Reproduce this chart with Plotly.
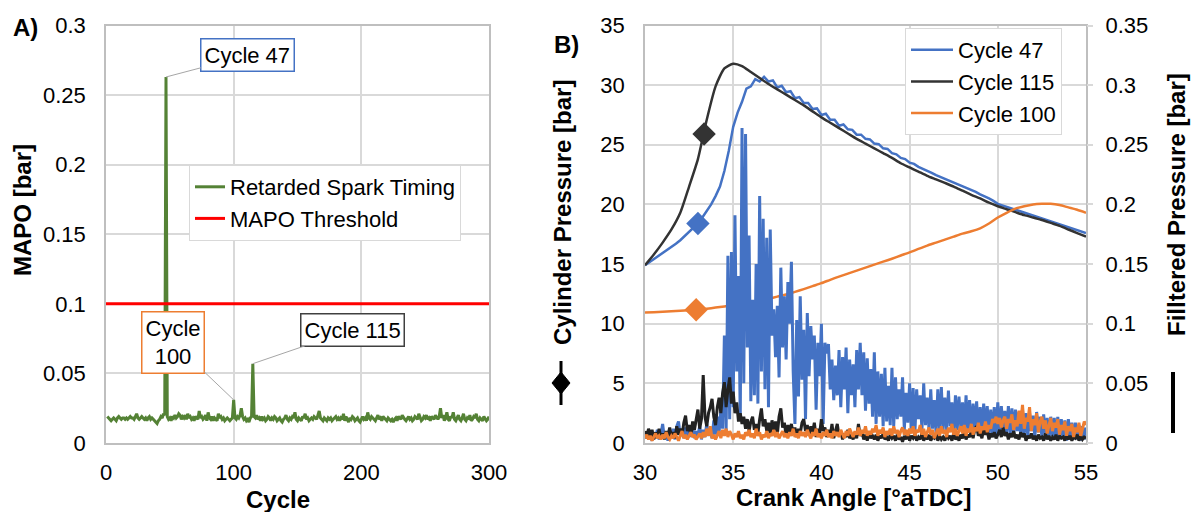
import plotly.graph_objects as go

W, H = 1192, 512
def px(x): return x / W
def py(y): return 1 - y / H

FONT = "Liberation Sans, Arial, sans-serif"
BLUE = "#4472C4"
DARK = "#333333"
ORANGE = "#ED7D31"
GREEN = "#548235"
RED = "#FF0000"
GRID = "#D9D9D9"

# ---------------- Panel A data ----------------
cycles = list(range(1, 301))
mapo = [
    0.019,0.018,0.017,0.016,0.017,0.018,0.017,0.016,0.018,0.019,0.018,0.017,0.018,0.018,0.017,0.018,0.017,0.018,0.019,0.018,
    0.018,0.017,0.019,0.021,0.018,0.017,0.018,0.019,0.018,0.017,0.018,0.016,0.018,0.019,0.017,0.018,0.017,0.016,0.015,0.014,
    0.016,0.017,0.019,0.018,0.021,0.020,0.263,0.019,0.017,0.018,0.016,0.019,0.018,0.020,0.018,0.019,0.021,0.020,0.017,0.019,
    0.018,0.020,0.017,0.021,0.018,0.019,0.017,0.018,0.016,0.019,0.018,0.017,0.023,0.018,0.019,0.017,0.018,0.020,0.016,0.022,
    0.018,0.017,0.019,0.016,0.018,0.017,0.016,0.021,0.018,0.019,0.017,0.018,0.016,0.017,0.018,0.017,0.016,0.017,0.018,0.031,
    0.018,0.017,0.019,0.018,0.020,0.025,0.019,0.017,0.018,0.016,0.017,0.015,0.018,0.019,0.057,0.019,0.018,0.020,0.017,0.018,
    0.016,0.019,0.017,0.018,0.016,0.017,0.019,0.018,0.016,0.018,0.017,0.019,0.018,0.016,0.017,0.018,0.016,0.015,0.017,0.018,
    0.020,0.017,0.016,0.018,0.017,0.019,0.018,0.022,0.017,0.016,0.018,0.017,0.016,0.019,0.018,0.021,0.017,0.018,0.016,0.017,
    0.018,0.017,0.019,0.018,0.017,0.020,0.023,0.018,0.017,0.016,0.018,0.017,0.016,0.018,0.017,0.018,0.016,0.017,0.018,0.019,
    0.017,0.018,0.016,0.018,0.017,0.021,0.016,0.019,0.017,0.015,0.018,0.017,0.019,0.018,0.016,0.017,0.018,0.016,0.015,0.017,
    0.019,0.017,0.018,0.016,0.022,0.018,0.017,0.019,0.018,0.017,0.016,0.018,0.020,0.017,0.018,0.016,0.019,0.018,0.017,0.016,
    0.018,0.017,0.016,0.017,0.015,0.017,0.018,0.016,0.019,0.018,0.017,0.020,0.018,0.017,0.016,0.018,0.019,0.017,0.018,0.016,
    0.017,0.019,0.018,0.017,0.021,0.018,0.016,0.017,0.019,0.018,0.020,0.017,0.018,0.016,0.019,0.018,0.017,0.020,0.018,0.017,
    0.019,0.025,0.018,0.020,0.016,0.018,0.022,0.017,0.016,0.019,0.018,0.022,0.017,0.016,0.018,0.020,0.017,0.016,0.018,0.021,
    0.017,0.016,0.018,0.017,0.020,0.016,0.017,0.019,0.018,0.021,0.017,0.016,0.018,0.017,0.016,0.019,0.017,0.016,0.017,0.019,
]
threshold_x = [0, 300]
threshold_y = [0.1, 0.1]
mapo_ticks = [0, 0.05, 0.1, 0.15, 0.2, 0.25, 0.3]
mapo_ticktext = ["0", "0.05", "0.1", "0.15", "0.2", "0.25", "0.3"]
cycle_ticks = [0, 100, 200, 300]

# ---------------- Panel B data ----------------
# crank angle sampling grids (deg aTDC)
ca_fine = [round(30 + 0.1 * i, 1) for i in range(251)]
ca_half = [30 + 0.5 * i for i in range(51)]
ca_quarter = [30 + 0.25 * i for i in range(101)]

# cylinder pressure [bar]
p_cycle47 = [
    14.9, 15.15, 15.4, 15.65,
    15.9, 16.15, 16.45, 16.7,
    17.0, 17.35, 17.7, 18.05,
    18.4, 18.9, 19.4, 20.0,
    20.7, 21.5, 22.8, 24.5,
    26.5, 27.7, 28.6, 29.7,
    29.9, 30.5, 30.3, 30.7,
    30.3, 30.4, 29.8, 29.95,
    29.4, 29.5, 28.9, 29.0,
    28.5, 28.5, 28.0, 28.05,
    27.5, 27.6, 27.1, 27.1,
    26.6, 26.7, 26.3, 26.25,
    25.85, 25.85, 25.5, 25.45,
    25.1, 25.05, 24.7, 24.65,
    24.3, 24.2, 23.9, 23.8,
    23.5, 23.4, 23.15, 23.0,
    22.8, 22.65, 22.45, 22.3,
    22.1, 21.95, 21.8, 21.65,
    21.5, 21.35, 21.2, 21.05,
    20.85, 20.7, 20.5, 20.3,
    20.05, 19.92, 19.8, 19.68,
    19.55, 19.42, 19.3, 19.17,
    19.05, 18.95, 18.85, 18.72,
    18.6, 18.48, 18.35, 18.22,
    18.1, 17.97, 17.85, 17.72,
    17.6,
]
p_cycle115 = [
    14.9, 15.8, 16.8, 17.9, 19.3, 21.5, 23.8, 27.1, 29.9, 31.4,
    31.8, 31.6, 31.1, 30.6, 30.1, 29.65, 29.2, 28.75, 28.3, 27.8,
    27.3, 26.85, 26.4, 25.95, 25.5, 25.1, 24.7, 24.3, 23.9, 23.45,
    23.1, 22.75, 22.4, 22.1, 21.8, 21.5, 21.15, 20.8, 20.5, 20.15,
    19.85, 19.6, 19.35, 19.1, 18.9, 18.7, 18.45, 18.2, 17.9, 17.6,
    17.3,
]
p_cycle100 = [
    10.94, 10.97, 11.0, 11.04, 11.08, 11.13, 11.18, 11.26, 11.35, 11.45,
    11.55, 11.67, 11.8, 11.95, 12.1, 12.27, 12.45, 12.67, 12.9, 13.15,
    13.4, 13.68, 13.95, 14.2, 14.45, 14.7, 14.95, 15.2, 15.45, 15.72,
    15.98, 16.27, 16.55, 16.8, 17.05, 17.3, 17.55, 17.75, 18.0, 18.4,
    18.9, 19.3, 19.65, 19.85, 20.0, 20.05, 20.05, 19.95, 19.75, 19.55,
    19.3,
]

# filtered pressure [bar]
f_cycle47 = [
    0.004,0.008,0.003,0.006,0.002,0.009,0.004,0.011,0.003,0.007,
    0.016,0.004,0.009,0.002,0.010,0.005,0.012,0.003,0.014,0.018,
    0.006,0.011,0.004,0.013,0.006,0.015,0.005,0.012,0.004,0.010,
    0.006,0.014,0.003,0.011,0.005,0.016,0.006,0.012,0.004,0.019,
    0.007,0.022,0.009,0.028,0.012,0.090,0.010,0.157,0.020,0.160,
    0.030,0.191,0.060,0.140,0.020,0.264,0.050,0.259,0.080,0.174,
    0.035,0.120,0.040,0.150,0.033,0.207,0.060,0.188,0.045,0.172,
    0.030,0.179,0.090,0.112,0.072,0.115,0.055,0.147,0.080,0.123,
    0.070,0.135,0.100,0.152,0.060,0.016,0.103,0.039,0.123,0.053,
    0.095,0.020,0.109,0.056,0.098,0.070,0.090,0.028,0.084,0.056,
    0.100,0.016,0.084,0.075,0.083,0.045,0.070,0.036,0.065,0.040,
    0.078,0.030,0.072,0.045,0.080,0.025,0.070,0.040,0.066,0.030,
    0.078,0.045,0.084,0.040,0.076,0.027,0.071,0.033,0.062,0.022,
    0.076,0.016,0.060,0.022,0.058,0.014,0.063,0.018,0.048,0.015,
    0.063,0.014,0.055,0.020,0.045,0.022,0.055,0.011,0.042,0.017,
    0.050,0.011,0.046,0.008,0.045,0.020,0.040,0.011,0.050,0.015,
    0.038,0.011,0.045,0.012,0.036,0.008,0.045,0.011,0.047,0.011,
    0.038,0.011,0.044,0.014,0.034,0.008,0.040,0.011,0.039,0.013,
    0.034,0.008,0.040,0.011,0.036,0.006,0.033,0.011,0.035,0.006,
    0.030,0.010,0.033,0.010,0.031,0.008,0.028,0.006,0.030,0.007,
    0.034,0.008,0.031,0.012,0.027,0.009,0.031,0.007,0.029,0.008,
    0.028,0.010,0.026,0.006,0.028,0.008,0.025,0.006,0.025,0.010,
    0.023,0.005,0.026,0.009,0.022,0.005,0.024,0.007,0.021,0.004,
    0.022,0.006,0.021,0.003,0.022,0.005,0.020,0.004,0.019,0.002,
    0.020,0.005,0.017,0.003,0.017,0.003,0.015,0.002,0.014,0.003,
    0.013,
]
f_cycle115 = [
    0.010,0.004,0.012,0.006,0.011,0.003,0.009,0.005,0.012,0.004,
    0.008,0.003,0.010,0.006,0.013,0.005,0.009,0.004,0.014,0.007,
    0.012,0.006,0.017,0.023,0.010,0.015,0.006,0.018,0.011,0.020,
    0.028,0.012,0.020,0.057,0.022,0.014,0.025,0.030,0.037,0.022,
    0.015,0.030,0.038,0.025,0.042,0.051,0.030,0.045,0.055,0.033,
    0.043,0.025,0.034,0.018,0.025,0.016,0.022,0.012,0.020,0.010,
    0.018,0.022,0.011,0.016,0.008,0.020,0.029,0.014,0.020,0.010,
    0.017,0.008,0.019,0.011,0.018,0.007,0.022,0.029,0.013,0.017,
    0.006,0.015,0.009,0.016,0.007,0.013,0.005,0.012,0.008,0.017,
    0.020,0.010,0.015,0.006,0.014,0.009,0.017,0.005,0.012,0.008,
    0.020,0.010,0.013,0.005,0.011,0.006,0.016,0.004,0.009,0.016,
    0.006,0.010,0.003,0.008,0.005,0.011,0.004,0.007,0.003,0.009,
    0.004,0.016,0.006,0.009,0.003,0.007,0.002,0.008,0.004,0.006,
    0.003,0.007,0.002,0.006,0.004,0.008,0.003,0.005,0.002,0.007,
    0.004,0.006,0.002,0.007,0.003,0.005,0.001,0.006,0.003,0.008,
    0.002,0.006,0.004,0.007,0.002,0.005,0.003,0.008,0.002,0.006,
    0.003,0.007,0.002,0.005,0.004,0.008,0.002,0.006,0.003,0.005,
    0.002,0.007,0.004,0.006,0.002,0.008,0.003,0.005,0.002,0.007,
    0.004,0.009,0.003,0.007,0.005,0.010,0.004,0.012,0.014,0.006,
    0.009,0.004,0.012,0.007,0.010,0.003,0.008,0.005,0.009,0.004,
    0.007,0.011,0.005,0.013,0.006,0.009,0.003,0.008,0.005,0.010,
    0.004,0.007,0.003,0.009,0.005,0.008,0.002,0.006,0.004,0.008,
    0.003,0.006,0.002,0.007,0.004,0.005,0.002,0.008,0.003,0.006,
    0.002,0.005,0.003,0.007,0.002,0.006,0.004,0.005,0.002,0.007,
    0.003,0.006,0.002,0.005,0.004,0.007,0.002,0.006,0.003,0.005,
    0.004,
]
f_cycle100 = [
    0.004,0.007,0.003,0.006,0.002,0.005,0.008,0.004,0.006,0.003,
    0.007,0.004,0.009,0.005,0.003,0.006,0.004,0.008,0.005,0.002,
    0.006,0.010,0.004,0.007,0.003,0.006,0.009,0.005,0.007,0.003,
    0.005,0.008,0.004,0.009,0.005,0.012,0.006,0.014,0.004,0.007,
    0.003,0.006,0.010,0.004,0.011,0.006,0.012,0.005,0.010,0.007,
    0.003,0.008,0.005,0.010,0.004,0.007,0.003,0.009,0.006,0.011,
    0.005,0.008,0.004,0.012,0.006,0.009,0.003,0.007,0.005,0.010,
    0.004,0.008,0.006,0.011,0.005,0.009,0.004,0.007,0.010,0.005,
    0.008,0.004,0.009,0.006,0.012,0.005,0.008,0.004,0.010,0.006,
    0.009,0.005,0.011,0.007,0.004,0.009,0.006,0.012,0.005,0.008,
    0.004,0.009,0.006,0.011,0.005,0.008,0.004,0.010,0.006,0.009,
    0.005,0.011,0.007,0.004,0.010,0.006,0.012,0.008,0.005,0.010,
    0.007,0.013,0.006,0.011,0.008,0.014,0.006,0.010,0.007,0.012,
    0.009,0.015,0.006,0.011,0.008,0.013,0.005,0.010,0.007,0.012,
    0.006,0.014,0.008,0.011,0.005,0.010,0.013,0.007,0.011,0.006,
    0.012,0.008,0.014,0.006,0.011,0.009,0.015,0.007,0.012,0.005,
    0.010,0.013,0.007,0.011,0.004,0.009,0.012,0.006,0.014,0.008,
    0.011,0.005,0.013,0.009,0.016,0.007,0.012,0.006,0.010,0.014,
    0.008,0.015,0.006,0.012,0.009,0.016,0.007,0.013,0.010,0.017,
    0.008,0.014,0.011,0.018,0.009,0.015,0.012,0.020,0.017,0.022,
    0.016,0.021,0.013,0.019,0.022,0.012,0.020,0.017,0.024,0.011,
    0.019,0.014,0.027,0.016,0.032,0.012,0.021,0.018,0.030,0.010,
    0.020,0.015,0.025,0.009,0.018,0.022,0.012,0.019,0.008,0.016,
    0.021,0.010,0.017,0.013,0.020,0.007,0.015,0.011,0.018,0.006,
    0.014,0.010,0.016,0.005,0.013,0.009,0.017,0.006,0.012,0.018,
    0.015,
]

# spark timing markers
spark_ca_47, spark_p_47 = [33.0], [18.4]
spark_ca_115, spark_p_115 = [33.35], [25.9]
spark_ca_100, spark_p_100 = [32.9], [11.17]

ca_ticks = [30, 35, 40, 45, 50, 55]
p_ticks = [0, 5, 10, 15, 20, 25, 30, 35]
f_ticks = [0, 0.05, 0.1, 0.15, 0.2, 0.25, 0.3, 0.35]
f_ticktext = ["0", "0.05", "0.1", "0.15", "0.2", "0.25", "0.3", "0.35"]

fig = go.Figure()

# Panel A
fig.add_trace(go.Scatter(x=cycles, y=mapo, mode="lines", name="Retarded Spark Timing",
                         line=dict(color=GREEN, width=3), xaxis="x", yaxis="y", legend="legend"))
fig.add_trace(go.Scatter(x=threshold_x, y=threshold_y, mode="lines", name="MAPO Threshold",
                         line=dict(color=RED, width=3), xaxis="x", yaxis="y", legend="legend"))

# Panel B cylinder pressure
fig.add_trace(go.Scatter(x=ca_quarter, y=p_cycle47, mode="lines", name="Cycle 47",
                         line=dict(color=BLUE, width=2.5), xaxis="x2", yaxis="y2", legend="legend2"))
fig.add_trace(go.Scatter(x=ca_half, y=p_cycle115, mode="lines", name="Cycle 115",
                         line=dict(color=DARK, width=2.5, shape="spline", smoothing=0.6),
                         xaxis="x2", yaxis="y2", legend="legend2"))
fig.add_trace(go.Scatter(x=ca_half, y=p_cycle100, mode="lines", name="Cycle 100",
                         line=dict(color=ORANGE, width=2.5, shape="spline", smoothing=0.6),
                         xaxis="x2", yaxis="y2", legend="legend2"))
for cx, cy, col in [(spark_ca_47, spark_p_47, BLUE), (spark_ca_115, spark_p_115, DARK),
                    (spark_ca_100, spark_p_100, ORANGE)]:
    fig.add_trace(go.Scatter(x=cx, y=cy, mode="markers", showlegend=False,
                             marker=dict(symbol="diamond", size=18, color=col),
                             xaxis="x2", yaxis="y2"))

# Panel B filtered pressure
for fy, col in [(f_cycle47, BLUE), (f_cycle115, "#222222"), (f_cycle100, ORANGE)]:
    fig.add_trace(go.Scatter(x=ca_fine, y=fy, mode="lines", showlegend=False,
                             line=dict(color=col, width=3), xaxis="x2", yaxis="y3"))

tickfont = dict(family=FONT, size=22, color="#000000")
common_ax = dict(showgrid=True, gridcolor=GRID, gridwidth=1.5, showline=True, linecolor="#BFBFBF",
                 linewidth=1.5, mirror=True, zeroline=False, tickfont=tickfont, ticks="",
                 automargin=False)

fig.update_layout(
    width=W, height=H, margin=dict(l=0, r=0, t=0, b=0, pad=0, autoexpand=False),
    paper_bgcolor="white", plot_bgcolor="white",
    font=dict(family=FONT, size=22, color="#000000"),
    xaxis=dict(domain=[px(106), px(489)], range=[0, 300], tickvals=cycle_ticks, anchor="y",
               ticklabelstandoff=9, **common_ax),
    yaxis=dict(domain=[py(443), py(25.5)], range=[0, 0.3], tickvals=mapo_ticks,
               ticktext=mapo_ticktext, anchor="x", ticklabelstandoff=14, **common_ax),
    xaxis2=dict(domain=[px(645), px(1086)], range=[30, 55], tickvals=ca_ticks, anchor="y2",
                ticklabelstandoff=9, **common_ax),
    yaxis2=dict(domain=[py(443), py(25.5)], range=[0, 35], tickvals=p_ticks, anchor="x2",
                ticklabelstandoff=14, **common_ax),
    yaxis3=dict(range=[0, 0.35], tickvals=f_ticks, ticktext=f_ticktext, overlaying="y2",
                side="right", anchor="x2", showgrid=False, zeroline=False, showline=False,
                ticks="outside", ticklen=6, tickcolor=GRID, tickwidth=1.5,
                tickfont=tickfont, ticklabelstandoff=8, automargin=False),
    legend=dict(x=px(189), y=py(165), xanchor="left", yanchor="top",
                bgcolor="white", bordercolor=GRID, borderwidth=1,
                font=dict(family=FONT, size=22, color="#000000"), tracegroupgap=0),
    legend2=dict(x=px(905), y=py(28), xanchor="left", yanchor="top", itemwidth=42,
                 bgcolor="white", bordercolor=GRID, borderwidth=1,
                 font=dict(family=FONT, size=22, color="#000000"), tracegroupgap=0),
    showlegend=True,
)

ann = []
def txt(text, x, y, size=24, angle=0, bold=True):
    ann.append(dict(text=f"<b>{text}</b>" if bold else text, x=px(x), y=py(y), xref="paper",
                    yref="paper", showarrow=False, textangle=angle, xanchor="center",
                    yanchor="middle", font=dict(family=FONT, size=size, color="#000000")))

txt("A)", 25, 27)
txt("B)", 566, 44)
txt("MAPO [bar]", 22, 210, angle=-90)
txt("Cycle", 278, 499)
txt("Crank Angle [°aTDC]", 853, 497)
txt("Cylinder Pressure [bar]", 562, 213, angle=-90)
txt("Filltered Pressure [bar]", 1176, 205, angle=-90)

# callouts pointing at the MAPO peaks
def callout(text, idx, bx, by, border):
    ann.append(dict(text=text, x=cycles[idx], y=mapo[idx], xref="x", yref="y",
                    ax=bx, ay=by, axref="x", ayref="y", showarrow=True, arrowhead=0,
                    arrowwidth=1, arrowcolor="#A6A6A6", bgcolor="white", bordercolor=border,
                    borderwidth=1.5, borderpad=3,
                    font=dict(family=FONT, size=22, color="#000000")))

callout("Cycle 47", cycles.index(47), 111, 0.2785, BLUE)
callout("Cycle<br>100", cycles.index(100), 52.5, 0.0725, ORANGE)
callout("Cycle 115", cycles.index(115), 193, 0.0815, "#404040")

fig.update_layout(annotations=ann)

# axis-title series glyphs
shapes = [
    dict(type="line", xref="paper", yref="paper", x0=px(561), x1=px(561), y0=py(361), y1=py(405),
         line=dict(color="black", width=3)),
    dict(type="path", xref="paper", yref="paper",
         path=f"M {px(552)} {py(383)} L {px(561)} {py(372)} L {px(570)} {py(383)} L {px(561)} {py(394)} Z",
         fillcolor="black", line=dict(color="black", width=1)),
    dict(type="line", xref="paper", yref="paper", x0=px(1173), x1=px(1173), y0=py(372), y1=py(433),
         line=dict(color="black", width=4)),
]
fig.update_layout(shapes=shapes)

fig.write_html("out.html")
